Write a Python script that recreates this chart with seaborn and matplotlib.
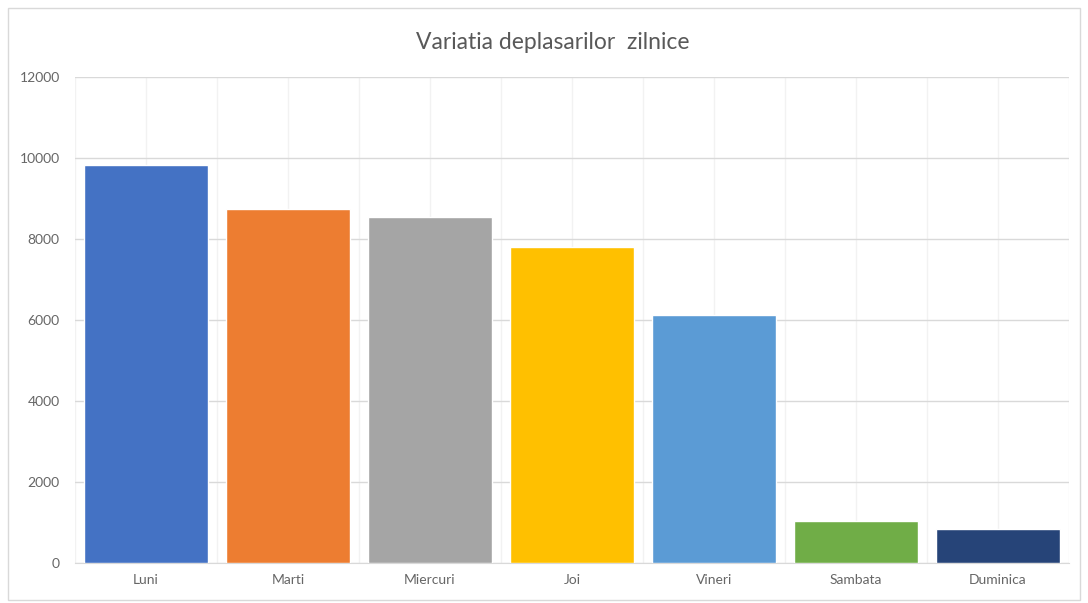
import seaborn as sns
import matplotlib.pyplot as plt
import matplotlib.patches as mpatches
import pandas as pd

# data
zile = ['Luni', 'Marti', 'Miercuri', 'Joi', 'Vineri', 'Sambata', 'Duminica']
deplasari = [9840, 8740, 8540, 7800, 6140, 1030, 850]
culori = ['#4472C4', '#ED7D31', '#A5A5A5', '#FFC000', '#5B9BD5', '#70AD47', '#264478']
y_ticks = [0, 2000, 4000, 6000, 8000, 10000, 12000]

df = pd.DataFrame({'Zi': zile, 'Deplasari': deplasari})

sns.set_style('white')
plt.rcParams['font.family'] = ['Lato', 'DejaVu Sans']

fig = plt.figure(figsize=(10.88, 6.03), dpi=100)
ax = fig.add_axes([0.069, 0.066, 0.9135, 0.806])

sns.barplot(data=df, x='Zi', y='Deplasari', hue='Zi', palette=culori,
            legend=False, width=0.87, saturation=1, ax=ax, zorder=3)

# gridlines like in excel (horizontal + faint vertical)
ax.set_ylim(0, 12000)
ax.set_yticks(y_ticks)
ax.set_xlim(-0.5, len(zile) - 0.5)
ax.set_xticks([i + 0.5 for i in range(-1, len(zile))], minor=True)
ax.grid(axis='y', color='#D9D9D9', linewidth=1, zorder=0)
ax.grid(axis='x', which='both', color='#F2F2F2', linewidth=1, zorder=0)
ax.set_axisbelow(True)

for s in ['top', 'right', 'left']:
    ax.spines[s].set_visible(False)
ax.spines['bottom'].set_color('#D9D9D9')

ax.tick_params(axis='both', which='both', length=0, colors='#666666', labelsize=10)
ax.tick_params(axis='y', pad=11)
ax.tick_params(axis='x', pad=8)
ax.set_xlabel('')
ax.set_ylabel('')

fig.text(0.508, 0.93, 'Variatia deplasarilor  zilnice', ha='center', va='center',
         fontsize=16.5, color='#595959')

# chart border
fig.patches.append(mpatches.Rectangle((0.007, 0.005), 0.986, 0.982, transform=fig.transFigure,
                                      fill=False, edgecolor='#D9D9D9', linewidth=1))

plt.savefig('out.png', dpi=100)
